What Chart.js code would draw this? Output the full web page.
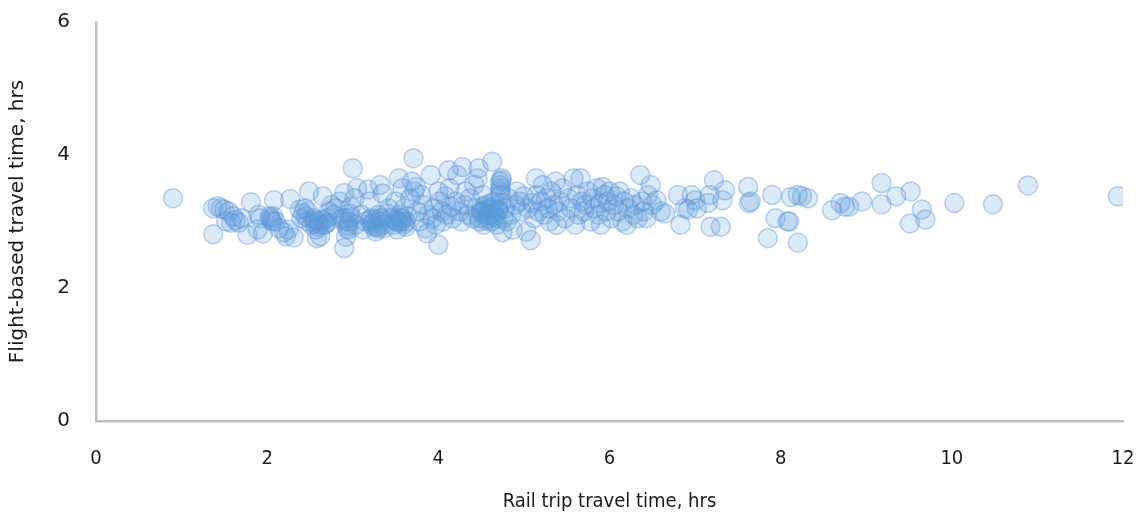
<!DOCTYPE html>
<html>
<head>
<meta charset="utf-8">
<script src="https://cdn.jsdelivr.net/npm/chart.js@4/dist/chart.umd.min.js"></script>
<style>
  html, body { margin: 0; padding: 0; background: #ffffff; }
  #wrap { width: 1143px; height: 514px; }
</style>
</head>
<body>
<div id="wrap"><canvas id="chart" width="1143" height="514"></canvas></div>
<script>
// Rail trip travel time (hrs) for each city pair
const railHours = [
  0.90,
  1.37, 1.42, 1.46, 1.50, 1.55, 1.60, 1.63, 1.58, 1.52, 1.37, 1.70, 1.67,
  1.81, 1.77, 1.90, 1.92, 1.89, 1.95, 2.03, 2.05, 2.08, 2.10, 2.14, 2.20, 2.22, 2.25, 2.27, 2.31, 2.38, 2.42, 2.44, 2.49, 2.40, 2.47,
  2.04, 2.06, 2.07, 2.45, 2.48,
  2.52, 2.55, 2.57, 2.60, 2.62, 2.58, 2.65, 2.67, 2.70, 2.72, 2.75, 2.78, 2.80, 2.85, 2.88, 2.90, 2.90, 2.92, 2.93, 2.95, 2.96, 2.98, 3.00, 3.02, 3.05, 3.03,
  2.55, 2.60, 2.65, 2.68, 2.92, 2.95, 2.56, 2.62, 2.70, 2.90, 2.94, 2.98,
  3.10, 3.12, 3.15, 3.18, 3.20, 3.22, 3.25, 3.27, 3.30, 3.32, 3.33, 3.35, 3.37, 3.40, 3.42, 3.45, 3.47, 3.50, 3.52, 3.54, 3.55, 3.57, 3.58, 3.60, 3.62, 3.64,
  3.22, 3.26, 3.30, 3.34, 3.52, 3.56, 3.60, 3.20, 3.24, 3.28, 3.32, 3.36, 3.50, 3.54, 3.58, 3.62,
  3.67, 3.69, 3.71, 3.72, 3.74, 3.75, 3.78, 3.80, 3.82, 3.85, 3.87, 3.88, 3.91, 3.93, 3.95, 3.97, 4.00, 4.00, 4.02, 4.04, 4.05, 4.08, 4.10, 4.12,
  4.13, 4.15, 4.17, 4.20, 4.22, 4.25, 4.27, 4.28, 4.30, 4.32, 4.35, 4.37, 4.40, 4.42, 4.44, 4.46, 4.47, 4.48, 4.50, 4.52, 4.53, 4.55, 4.57, 4.58,
  4.50, 4.54, 4.58, 4.62, 4.66, 4.70, 4.48, 4.52, 4.56, 4.60, 4.64, 4.68, 4.72, 4.72, 4.74,
  4.60, 4.62, 4.63, 4.64, 4.66, 4.68, 4.70, 4.72, 4.73, 4.73, 4.74, 4.74, 4.75, 4.76, 4.78, 4.80, 4.82, 4.85, 4.87, 4.90, 4.92, 4.95, 4.97, 5.00,
  5.03, 5.05, 5.08, 5.10, 5.12, 5.14, 5.15, 5.17, 5.20, 5.22, 5.24, 5.26, 5.28, 5.30, 5.32, 5.35, 5.37, 5.38, 5.40, 5.42, 5.45, 5.48,
  5.52, 5.55, 5.58, 5.60, 5.62, 5.64, 5.66, 5.68, 5.70, 5.72, 5.75, 5.78, 5.80, 5.82, 5.85, 5.87, 5.89, 5.90, 5.92, 5.94, 5.96, 5.98,
  6.00, 6.02, 6.05, 6.08, 6.10, 6.12, 6.15, 6.17, 6.20, 6.22, 6.25, 6.28, 6.30, 6.33, 6.36, 6.38, 6.40, 6.43, 6.45, 6.48, 6.50,
  6.55, 6.60, 6.65, 6.80, 6.83, 6.88, 6.92, 6.96, 7.00, 7.02, 7.15, 7.17, 7.18, 7.22, 7.30, 7.32, 7.35,
  7.62, 7.63, 7.65, 7.85, 7.90, 7.94, 8.08, 8.10, 8.12, 8.20, 8.20, 8.25, 8.32,
  8.60, 8.70, 8.75, 8.80, 8.95, 9.18, 9.18, 9.35, 9.52, 9.51, 9.65, 9.69, 10.03, 10.48, 10.89, 11.94
];

// Flight-based travel time (hrs) for the same city pairs, in the same order
const flightHours = [
  3.35,
  3.20, 3.23, 3.20, 3.18, 3.15, 3.08, 3.02, 2.98, 3.00, 2.81, 3.05, 2.98,
  3.29, 2.80, 3.10, 3.05, 2.88, 2.82, 3.08, 3.02, 3.32, 3.00, 2.90, 2.84, 2.78, 2.88, 3.34, 2.76, 3.18, 3.12, 3.20, 3.45, 3.05, 3.00,
  3.05, 3.00, 3.08, 3.08, 3.15,
  2.95, 3.05, 2.88, 3.00, 2.78, 2.75, 3.38, 2.95, 3.05, 3.15, 3.25, 3.10, 3.20, 3.30, 3.05, 3.43, 2.60, 2.77, 2.90, 3.00, 3.12, 3.22, 3.80, 3.35, 3.50, 2.95,
  2.98, 2.92, 3.02, 2.96, 3.05, 2.88, 3.02, 2.95, 2.98, 3.00, 2.94, 3.06,
  3.10, 2.88, 3.00, 3.48, 3.30, 3.05, 2.92, 2.85, 3.10, 3.55, 3.00, 3.42, 2.90, 3.12, 3.20, 3.05, 2.95, 3.30, 2.88, 3.65, 3.10, 3.00, 3.50, 3.20, 2.92, 3.08,
  2.95, 3.02, 2.90, 3.06, 3.00, 3.06, 2.96, 3.02, 2.98, 2.92, 3.04, 2.96, 3.02, 2.98, 3.04, 3.00,
  3.35, 3.60, 3.95, 3.45, 3.52, 3.15, 3.00, 3.40, 3.25, 2.90, 2.82, 3.10, 3.70, 3.05, 3.20, 2.95, 2.65, 3.45, 3.30, 3.15, 3.00, 3.38, 3.10, 3.77,
  3.50, 3.22, 3.05, 3.30, 3.70, 3.15, 3.00, 3.82, 3.25, 3.45, 3.10, 3.35, 3.05, 3.55, 3.20, 3.65, 3.80, 3.00, 3.15, 3.40, 2.95, 3.25, 3.10, 3.05,
  3.12, 3.22, 3.18, 3.28, 3.08, 3.18, 3.05, 3.15, 3.02, 3.10, 3.20, 3.05, 3.55, 3.45, 3.62,
  3.20, 3.00, 3.90, 3.12, 3.30, 2.95, 3.15, 3.60, 3.50, 3.40, 3.65, 3.28, 2.84, 3.05, 3.20, 3.00, 3.35, 3.10, 2.88, 3.25, 3.45, 3.30, 3.15, 3.38,
  2.85, 3.20, 2.72, 3.28, 3.05, 3.65, 3.40, 3.15, 3.30, 3.55, 3.10, 3.35, 3.20, 3.00, 3.45, 3.25, 3.60, 2.95, 3.15, 3.30, 3.50, 3.05,
  3.35, 3.20, 3.65, 2.95, 3.40, 3.10, 3.65, 3.30, 3.15, 3.25, 3.45, 3.00, 3.35, 3.20, 3.50, 3.10, 3.28, 2.95, 3.52, 3.40, 3.15, 3.30,
  3.45, 3.05, 3.25, 3.38, 3.15, 3.45, 3.00, 3.30, 2.95, 3.20, 3.35, 3.10, 3.25, 3.05, 3.70, 3.30, 3.15, 3.05, 3.40, 3.55, 3.25,
  3.32, 3.15, 3.12, 3.40, 2.95, 3.20, 3.18, 3.40, 3.32, 3.20, 3.28, 3.40, 2.92, 3.62, 2.92, 3.32, 3.47,
  3.52, 3.28, 3.30, 2.75, 3.40, 3.05, 3.00, 3.00, 3.37, 2.68, 3.40, 3.38, 3.35,
  3.17, 3.28, 3.22, 3.22, 3.30, 3.58, 3.26, 3.38, 3.45, 2.97, 3.18, 3.03, 3.28, 3.26, 3.54, 3.38
];

// Axis ranges and tick labels
const xTicks = [0, 2, 4, 6, 8, 10, 12];
const yTicks = [0, 2, 4, 6];
const xTitle = 'Rail trip travel time, hrs';
const yTitle = 'Flight-based travel time, hrs';

const points = railHours.map((x, i) => ({ x: x, y: flightHours[i] }));

const fontX = { family: '"DejaVu Sans Condensed", "DejaVu Sans", sans-serif', size: 20 };
const fontY = { family: '"DejaVu Sans", sans-serif', size: 20 };
const axisGrey = '#bfbfbf';
const inkColor = '#1a1a1a';

new Chart(document.getElementById('chart'), {
  type: 'scatter',
  data: {
    datasets: [{
      data: points,
      pointRadius: 9.5,
      pointHoverRadius: 9.5,
      borderWidth: 1.5,
      backgroundColor: 'rgba(91, 150, 215, 0.21)',
      borderColor: 'rgba(91, 150, 215, 0.42)'
    }]
  },
  options: {
    responsive: false,
    animation: false,
    events: [],
    layout: { padding: { top: 22, right: 20, left: 0, bottom: 0 } },
    plugins: {
      legend: { display: false },
      tooltip: { enabled: false }
    },
    scales: {
      x: {
        type: 'linear',
        min: xTicks[0],
        max: xTicks[xTicks.length - 1],
        afterBuildTicks: (axis) => { axis.ticks = xTicks.map(v => ({ value: v })); },
        afterFit: (axis) => {
          axis.height = 93;
          axis.paddingLeft = 0;
          axis.paddingRight = 0;
        },
        grid: { display: false, drawTicks: false },
        border: { display: true, color: axisGrey, width: 2.5 },
        ticks: { color: inkColor, font: fontX, padding: 26, maxRotation: 0 },
        title: {
          display: true,
          text: xTitle,
          color: inkColor,
          font: fontX,
          padding: { top: 14, bottom: 0 }
        }
      },
      y: {
        type: 'linear',
        min: yTicks[0],
        max: yTicks[yTicks.length - 1],
        afterBuildTicks: (axis) => { axis.ticks = yTicks.map(v => ({ value: v })); },
        afterFit: (axis) => {
          axis.width = 96;
          axis.paddingTop = 0;
          axis.paddingBottom = 0;
        },
        grid: { display: false, drawTicks: false },
        border: { display: true, color: axisGrey, width: 2.5 },
        ticks: { color: inkColor, font: fontY, padding: 26 },
        title: {
          display: true,
          text: yTitle,
          color: inkColor,
          font: fontY,
          padding: { top: 6, bottom: 0 }
        }
      }
    }
  }
});
</script>
</body>
</html>
